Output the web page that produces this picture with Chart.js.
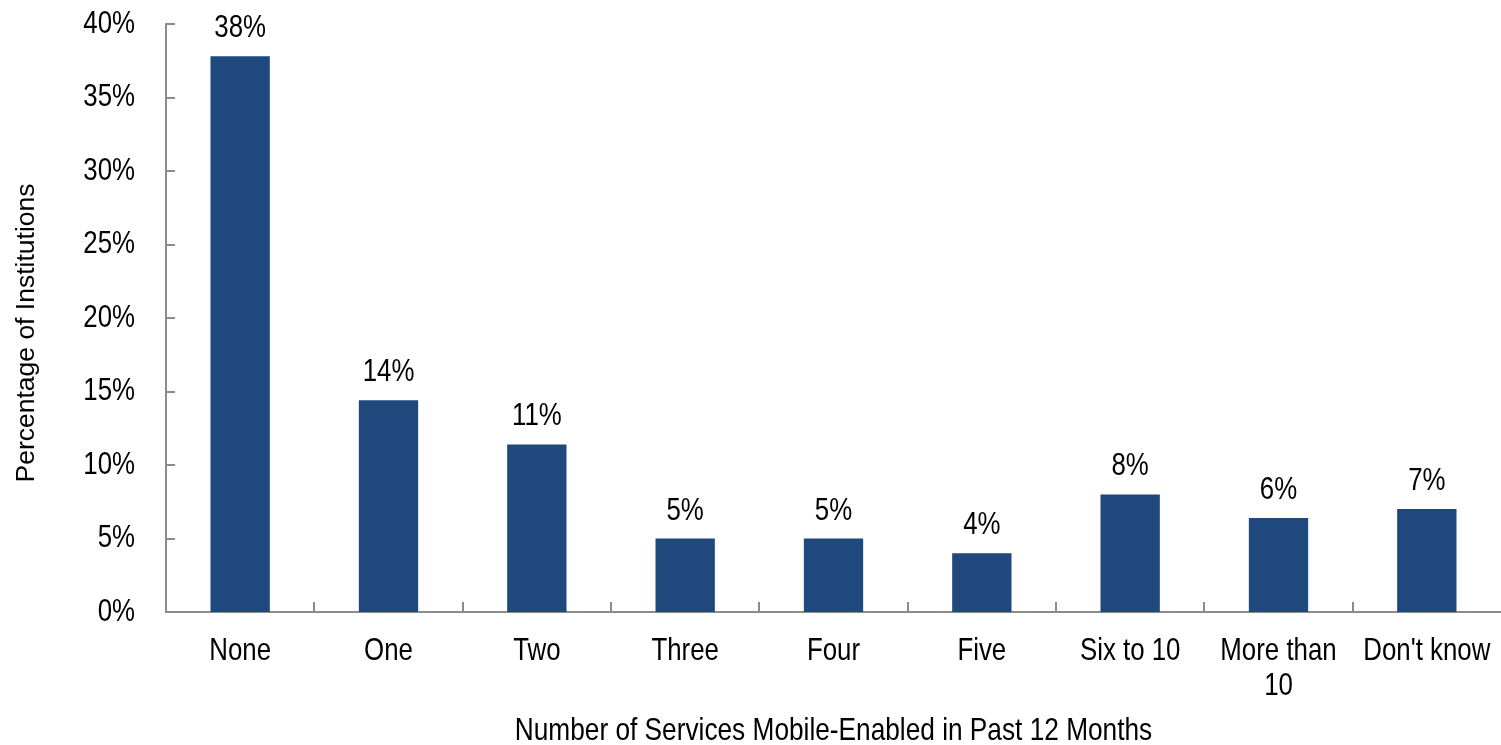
<!DOCTYPE html>
<html><head><meta charset="utf-8">
<script src="https://cdn.jsdelivr.net/npm/chart.js@4.4.1/dist/chart.umd.min.js"></script>
<style>html,body{margin:0;padding:0;background:#fff;overflow:hidden;}</style>
</head><body>
<canvas id="c" width="1501" height="745" style="display:block;width:1501px;height:745px"></canvas>
<script>
const categories = ['None', 'One', 'Two', 'Three', 'Four', 'Five', 'Six to 10', ['More than', '10'], "Don't know"];
const values = [37.8, 14.4, 11.4, 5.0, 5.0, 4.0, 8.0, 6.4, 7.0];
const valueLabels = ['38%', '14%', '11%', '5%', '5%', '4%', '8%', '6%', '7%'];
const yTickValues = [0, 5, 10, 15, 20, 25, 30, 35, 40];
const xTitle = 'Number of Services Mobile-Enabled in Past 12 Months';
const yTitle = 'Percentage of Institutions';

const FAMILY = '"Liberation Sans Narrow", "Arial Narrow", "Liberation Sans", Arial, sans-serif';
const REG = '"Liberation Sans", Arial, sans-serif';
const AXIS = '#8c8c8c';
const SQUEEZE = 0.82;

function narrowText(ctx, text, x, y, align, baseline, size) {
  ctx.save();
  ctx.font = size + 'px ' + FAMILY;
  ctx.textAlign = align;
  ctx.textBaseline = baseline;
  ctx.translate(x, y);
  ctx.scale(SQUEEZE, 1);
  ctx.fillText(text, 0, 0);
  ctx.restore();
}

const extras = {
  id: 'extras',
  afterDatasetsDraw(chart) {
    const ctx = chart.ctx;
    const x = chart.scales.x, y = chart.scales.y;
    const area = chart.chartArea;
    ctx.save();
    ctx.strokeStyle = AXIS;
    ctx.lineWidth = 2;
    ctx.beginPath();
    yTickValues.forEach(v => {
      const py = Math.round(y.getPixelForValue(v));
      ctx.moveTo(area.left, py);
      ctx.lineTo(area.left + 9, py);
    });
    for (let i = 0; i < categories.length - 1; i++) {
      const px = Math.round((x.getPixelForValue(i) + x.getPixelForValue(i + 1)) / 2);
      ctx.moveTo(px, area.bottom);
      ctx.lineTo(px, area.bottom - 10);
    }
    ctx.stroke();
    ctx.fillStyle = '#000';
    // y tick labels
    yTickValues.forEach(v => {
      narrowText(ctx, v + '%', area.left - 31, y.getPixelForValue(v), 'right', 'middle', 31.5);
    });
    // x tick labels
    categories.forEach((c, i) => {
      const lines = Array.isArray(c) ? c : [c];
      const px = x.getPixelForValue(i);
      lines.forEach((ln, k) => {
        narrowText(ctx, ln, px, area.bottom + 39 + k * 35, 'center', 'middle', 31.5);
      });
    });
    // value labels
    chart.getDatasetMeta(0).data.forEach((bar, i) => {
      narrowText(ctx, valueLabels[i], bar.x, bar.y - 19, 'center', 'alphabetic', 31.5);
    });
    // x title
    narrowText(ctx, xTitle, (area.left + area.right) / 2, 731, 'center', 'middle', 32);
    // y title
    ctx.save();
    ctx.font = '26.5px ' + REG;
    ctx.textAlign = 'center';
    ctx.textBaseline = 'middle';
    ctx.translate(27, (area.top + area.bottom) / 2 + 15);
    ctx.rotate(-Math.PI / 2);
    ctx.fillText(yTitle, 0, 0);
    ctx.restore();
    ctx.restore();
  }
};

new Chart(document.getElementById('c'), {
  type: 'bar',
  data: {
    labels: categories,
    datasets: [{
      data: values,
      backgroundColor: '#1F497D',
      borderWidth: 0,
      barPercentage: 0.4,
      categoryPercentage: 1.0
    }]
  },
  options: {
    responsive: false,
    animation: false,
    devicePixelRatio: 1,
    layout: { padding: { top: 24, right: 0, left: 0, bottom: 0 } },
    plugins: { legend: { display: false }, tooltip: { enabled: false } },
    scales: {
      x: {
        grid: { display: false, drawTicks: false },
        border: { display: true, color: AXIS, width: 2 },
        ticks: { display: false, autoSkip: false },
        title: { display: false },
        afterFit(s) { s.height = 133; s.paddingLeft = 0; s.paddingRight = 0; }
      },
      y: {
        min: 0, max: 40,
        grid: { display: false, drawTicks: false },
        border: { display: true, color: AXIS, width: 2 },
        ticks: { display: false, stepSize: 5 },
        title: { display: false },
        afterFit(s) { s.width = 166; s.paddingTop = 0; s.paddingBottom = 0; }
      }
    }
  },
  plugins: [extras]
});
</script>
</body></html>
